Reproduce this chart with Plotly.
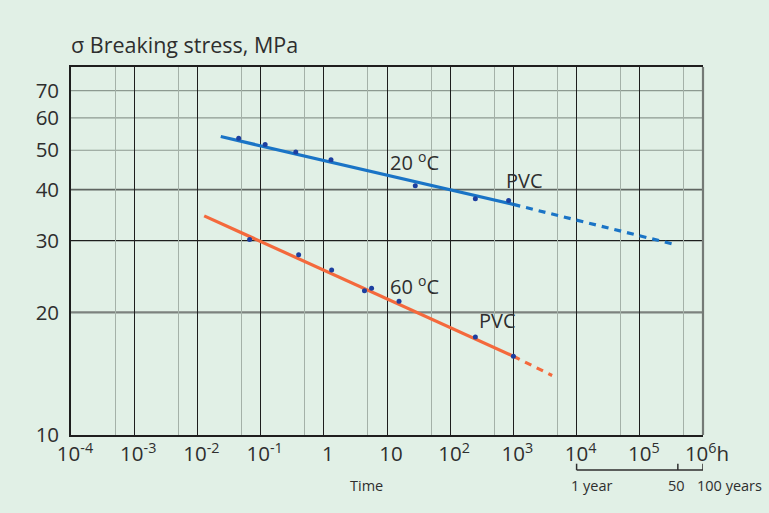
import math
import plotly.graph_objects as go

# Creep rupture data for PVC pipe material (time in hours, stress in MPa)
hours_20c = [0.045, 0.118, 0.36, 1.3, 28, 250, 840]
stress_20c = [53.5, 51.6, 49.5, 47.4, 40.9, 38.0, 37.6]
hours_60c = [0.067, 0.40, 1.33, 4.4, 5.7, 15.5, 250, 1000]
stress_60c = [30.2, 27.7, 25.4, 22.6, 22.9, 21.3, 17.4, 15.6]

# Regression lines (measured range) and their extrapolation
fit_20c_hours = [0.0234, 1000]
fit_20c_stress = [54.0, 36.8]
ext_20c_hours = [1000, 3.4e5]
ext_20c_stress = [36.8, 29.4]
fit_60c_hours = [0.0128, 1000]
fit_60c_stress = [34.5, 15.6]
ext_60c_hours = [1000, 4100]
ext_60c_stress = [15.6, 14.0]

# Axis ticks
x_tickvals = [1e-4, 1e-3, 1e-2, 1e-1, 1, 10, 1e2, 1e3, 1e4, 1e5, 1e6]
x_ticktext = ["10<sup>-4</sup>", "10<sup>-3</sup>", "10<sup>-2</sup>", "10<sup>-1</sup>", "1", "10",
              "10<sup>2</sup>", "10<sup>3</sup>", "10<sup>4</sup>", "10<sup>5</sup>", "10<sup>6</sup>h"]
x_minor = [5e-4, 5e-3, 5e-2, 5e-1, 5, 50, 5e2, 5e3, 5e4, 5e5]
y_tickvals = [10, 20, 30, 40, 50, 60, 70]
y_gridvals = [20, 30, 40, 50, 60, 70]

# Service-life scale under the time axis
year_hours = [1e4, 4e5, 1e6]
year_labels = ["1 year", "50", "100 years"]

# Curve labels: (text, hours, stress)
curve_labels = [("20 <sup>o</sup>C", 10.2, 46.8), ("PVC", 700, 42.2),
                ("60 <sup>o</sup>C", 10.2, 23.3), ("PVC", 262, 19.05)]

BG = "#e1f0e6"
BLUE = "#1a74c6"
ORANGE = "#f4693c"
DOT = "#1d3fa0"
TXT = "#2e2e2e"
FONT = "Open Sans"

fig = go.Figure()

fig.add_trace(go.Scatter(x=fit_20c_hours, y=fit_20c_stress, mode="lines",
                         line=dict(color=BLUE, width=3.2), hoverinfo="skip"))
fig.add_trace(go.Scatter(x=ext_20c_hours, y=ext_20c_stress, mode="lines",
                         line=dict(color=BLUE, width=3.2, dash="7px,6px"), hoverinfo="skip"))
fig.add_trace(go.Scatter(x=fit_60c_hours, y=fit_60c_stress, mode="lines",
                         line=dict(color=ORANGE, width=3.2), hoverinfo="skip"))
fig.add_trace(go.Scatter(x=ext_60c_hours, y=ext_60c_stress, mode="lines",
                         line=dict(color=ORANGE, width=3.2, dash="7px,6px"), hoverinfo="skip"))
fig.add_trace(go.Scatter(x=hours_20c, y=stress_20c, mode="markers",
                         marker=dict(color=DOT, size=5)))
fig.add_trace(go.Scatter(x=hours_60c, y=stress_60c, mode="markers",
                         marker=dict(color=DOT, size=5)))

# Horizontal grid lines with individual weights
grid_style = {20: ("#7c827e", 2.2), 30: ("#1e1e1e", 1.3), 40: ("#5f6561", 1.8),
              50: ("#8d9a91", 1.1), 60: ("#8d9a91", 1.1), 70: ("#8d9a91", 1.1)}
for v in y_gridvals:
    col, w = grid_style[v]
    fig.add_shape(type="line", xref="paper", yref="y", x0=0, x1=1, y0=v, y1=v,
                  line=dict(color=col, width=w), layer="below")

# Right border of the plot frame
fig.add_shape(type="line", xref="paper", yref="paper", x0=1, x1=1, y0=0, y1=1,
              line=dict(color="#747a76", width=2.2))

# Years bracket
fig.add_shape(type="line", xref="x", yref="paper", x0=year_hours[0], x1=year_hours[-1],
              y0=-0.095, y1=-0.095, line=dict(color=TXT, width=1.5))
for h in year_hours:
    fig.add_shape(type="line", xref="x", yref="paper", x0=h, x1=h, y0=-0.095, y1=-0.078,
                  line=dict(color=TXT, width=1.5))
for h, lab in zip(year_hours, year_labels):
    anchor = {"1 year": ("left", -8), "50": ("center", -1), "100 years": ("left", -8)}[lab]
    fig.add_annotation(x=math.log10(h), y=-0.138, xref="x", yref="paper", text=lab,
                       showarrow=False, xanchor=anchor[0], xshift=anchor[1], yanchor="middle",
                       font=dict(family=FONT, size=14.5, color=TXT))

for text, h, s in curve_labels:
    fig.add_annotation(x=math.log10(h), y=math.log10(s), xref="x", yref="y", text=text,
                       showarrow=False, xanchor="left", yanchor="middle",
                       font=dict(family=FONT, size=20, color=TXT))

fig.add_annotation(x=math.log10(4.8), y=-0.136, xref="x", yref="paper", text="Time",
                   showarrow=False, xanchor="center", yanchor="middle",
                   font=dict(family=FONT, size=14.5, color=TXT))
fig.add_annotation(x=0, y=1.06, xref="paper", yref="paper", text="σ Breaking stress, MPa",
                   showarrow=False, xanchor="left", yanchor="middle", xshift=-2,
                   font=dict(family=FONT, size=21.5, color=TXT))

fig.update_xaxes(type="log", range=[-4, 6], tickvals=x_tickvals, ticktext=x_ticktext,
                 showgrid=True, gridcolor="#1e1e1e", gridwidth=1.2,
                 minor=dict(tickvals=x_minor, showgrid=True, gridcolor="#a4b1a8", gridwidth=1.1),
                 showline=True, linecolor="#1e1e1e", linewidth=1.6, mirror=True,
                 ticks="", ticklabelshift=4, ticklabelstandoff=0, zeroline=False,
                 tickfont=dict(family=FONT, size=20.5, color=TXT))
fig.update_yaxes(type="log", range=[1, math.log10(80)], tickvals=y_tickvals,
                 ticktext=[str(v) for v in y_tickvals], showgrid=False,
                 showline=True, linecolor="#1e1e1e", linewidth=1.6,
                 ticks="", ticklabelstandoff=6, zeroline=False,
                 tickfont=dict(family=FONT, size=20.5, color=TXT))

fig.update_layout(width=769, height=513, margin=dict(l=71, r=66, t=67, b=78),
                  paper_bgcolor=BG, plot_bgcolor=BG, showlegend=False)

fig.write_html("out.html")
